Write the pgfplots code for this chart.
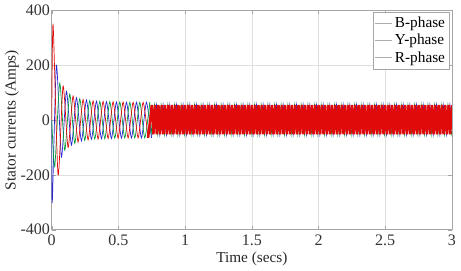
\documentclass[border=0pt]{standalone}
\usepackage{fontspec}
\setmainfont{Liberation Serif}
\usepackage{pgfplots}
\pgfplotsset{compat=1.18}
\definecolor{phaseR}{RGB}{225,10,10}
\definecolor{phaseB}{RGB}{40,40,210}
\definecolor{phaseY}{RGB}{0,155,60}
\begin{document}
\begin{tikzpicture}
\begin{axis}[
 scale only axis, width=261bp, height=143bp,
 xmin=0,xmax=3,ymin=-400,ymax=400,
 xtick={0,0.5,1,1.5,2,2.5,3}, ytick={-400,-200,0,200,400},
 grid=major, grid style={gray!25, line width=0.4pt},
 axis line style={gray!70},
 tick style={gray!70}, tick align=inside, major tick length=2.5pt,
 xlabel={Time (secs)}, ylabel={Stator currents (Amps)},
 label style={font=\fontsize{10}{12}\selectfont, text=black!85},
 tick label style={font=\fontsize{10.5}{12}\selectfont, text=black!80},
 yticklabel style={inner xsep=1pt},
 /pgf/number format/assume math mode=true,
 xlabel style={yshift=3pt}, ylabel style={yshift=-3.5pt},
 legend style={at={(0.995,0.995)},anchor=north east, draw=gray!70, font=\fontsize{10}{11}\selectfont, inner sep=1pt, row sep=-1pt, cells={anchor=west}},
 legend image code/.code={\draw[gray!65,line width=0.5pt](0cm,0cm)--(0.38cm,0cm);},
 every axis plot/.append style={line width=0.45pt},
]
% pre-0.75 s transient
\addplot[phaseB, smooth, tension=0.4] coordinates {(0,0)(0.004,-300)(0.035,200)(0.0725,-135)(0.11,105)(0.1475,-92)(0.185,82)(0.2225,-76)(0.26,73)(0.2975,-70)(0.335,69)(0.3725,-68)(0.41,67)(0.4475,-67)(0.485,66)(0.5225,-66)(0.56,65)(0.5975,-65)(0.635,65)(0.6725,-65)(0.71,65)(0.7475,-65)};
\addlegendentry{B-phase}
\addplot[phaseY, smooth, tension=0.4] coordinates {(0,0)(0.0225,-170)(0.06,135)(0.0975,-110)(0.135,95)(0.1725,-85)(0.21,78)(0.2475,-74)(0.285,71)(0.3225,-69)(0.36,68)(0.3975,-68)(0.435,67)(0.4725,-66)(0.51,66)(0.5475,-65)(0.585,65)(0.6225,-65)(0.66,65)(0.6975,-65)(0.735,65)};
\addlegendentry{Y-phase}
\addplot[phaseR, smooth, tension=0.4] coordinates {(0,0)(0.01,350)(0.0475,-200)(0.085,125)(0.1225,-100)(0.16,88)(0.1975,-80)(0.235,75)(0.2725,-72)(0.31,70)(0.3475,-69)(0.385,68)(0.4225,-67)(0.46,67)(0.4975,-66)(0.535,66)(0.5725,-65)(0.61,65)(0.6475,-65)(0.685,65)(0.7225,-65)};
\addlegendentry{R-phase}
% steady state after 0.75 s
\addplot[phaseB, forget plot] coordinates {(0.7475,-65)(0.785,56)
(0.81,-53)(0.835,56)(0.86,-53)(0.885,56)
(0.91,-53)(0.935,56)(0.96,-53)(0.985,56)
(1.01,-53)(1.035,56)(1.06,-53)(1.085,56)
(1.11,-53)(1.135,56)(1.16,-53)(1.185,56)
(1.21,-53)(1.235,56)(1.26,-53)(1.285,56)
(1.31,-53)(1.335,56)(1.36,-53)(1.385,56)
(1.41,-53)(1.435,56)(1.46,-53)(1.485,56)
(1.51,-53)(1.535,56)(1.56,-53)(1.585,56)
(1.61,-53)(1.635,56)(1.66,-53)(1.685,56)
(1.71,-53)(1.735,56)(1.76,-53)(1.785,56)
(1.81,-53)(1.835,56)(1.86,-53)(1.885,56)
(1.91,-53)(1.935,56)(1.96,-53)(1.985,56)
(2.01,-53)(2.035,56)(2.06,-53)(2.085,56)
(2.11,-53)(2.135,56)(2.16,-53)(2.185,56)
(2.21,-53)(2.235,56)(2.26,-53)(2.285,56)
(2.31,-53)(2.335,56)(2.36,-53)(2.385,56)
(2.41,-53)(2.435,56)(2.46,-53)(2.485,56)
(2.51,-53)(2.535,56)(2.56,-53)(2.585,56)
(2.61,-53)(2.635,56)(2.66,-53)(2.685,56)
(2.71,-53)(2.735,56)(2.76,-53)(2.785,56)
(2.81,-53)(2.835,56)(2.86,-53)(2.885,56)
(2.91,-53)(2.935,56)(2.96,-53)(2.985,56)(3,0)};
\addplot[phaseY, forget plot] coordinates {(0.735,65)(0.745,-53)(0.77,56)(0.795,-53)
(0.82,56)(0.845,-53)(0.87,56)(0.895,-53)
(0.92,56)(0.945,-53)(0.97,56)(0.995,-53)
(1.02,56)(1.045,-53)(1.07,56)(1.095,-53)
(1.12,56)(1.145,-53)(1.17,56)(1.195,-53)
(1.22,56)(1.245,-53)(1.27,56)(1.295,-53)
(1.32,56)(1.345,-53)(1.37,56)(1.395,-53)
(1.42,56)(1.445,-53)(1.47,56)(1.495,-53)
(1.52,56)(1.545,-53)(1.57,56)(1.595,-53)
(1.62,56)(1.645,-53)(1.67,56)(1.695,-53)
(1.72,56)(1.745,-53)(1.77,56)(1.795,-53)
(1.82,56)(1.845,-53)(1.87,56)(1.895,-53)
(1.92,56)(1.945,-53)(1.97,56)(1.995,-53)
(2.02,56)(2.045,-53)(2.07,56)(2.095,-53)
(2.12,56)(2.145,-53)(2.17,56)(2.195,-53)
(2.22,56)(2.245,-53)(2.27,56)(2.295,-53)
(2.32,56)(2.345,-53)(2.37,56)(2.395,-53)
(2.42,56)(2.445,-53)(2.47,56)(2.495,-53)
(2.52,56)(2.545,-53)(2.57,56)(2.595,-53)
(2.62,56)(2.645,-53)(2.67,56)(2.695,-53)
(2.72,56)(2.745,-53)(2.77,56)(2.795,-53)
(2.82,56)(2.845,-53)(2.87,56)(2.895,-53)
(2.92,56)(2.945,-53)(2.97,56)(2.995,-53)(3,-40)};
\addplot[phaseR, forget plot, line width=1.6pt] coordinates {(0.7225,-65)(0.75,55)(0.7625,-52)(0.775,55)(0.7875,-52)
(0.8,55)(0.8125,-52)(0.825,55)(0.8375,-52)(0.85,55)(0.8625,-52)(0.875,55)(0.8875,-52)
(0.9,55)(0.9125,-52)(0.925,55)(0.9375,-52)(0.95,55)(0.9625,-52)(0.975,55)(0.9875,-52)
(1.0,55)(1.0125,-52)(1.025,55)(1.0375,-52)(1.05,55)(1.0625,-52)(1.075,55)(1.0875,-52)
(1.1,55)(1.1125,-52)(1.125,55)(1.1375,-52)(1.15,55)(1.1625,-52)(1.175,55)(1.1875,-52)
(1.2,55)(1.2125,-52)(1.225,55)(1.2375,-52)(1.25,55)(1.2625,-52)(1.275,55)(1.2875,-52)
(1.3,55)(1.3125,-52)(1.325,55)(1.3375,-52)(1.35,55)(1.3625,-52)(1.375,55)(1.3875,-52)
(1.4,55)(1.4125,-52)(1.425,55)(1.4375,-52)(1.45,55)(1.4625,-52)(1.475,55)(1.4875,-52)
(1.5,55)(1.5125,-52)(1.525,55)(1.5375,-52)(1.55,55)(1.5625,-52)(1.575,55)(1.5875,-52)
(1.6,55)(1.6125,-52)(1.625,55)(1.6375,-52)(1.65,55)(1.6625,-52)(1.675,55)(1.6875,-52)
(1.7,55)(1.7125,-52)(1.725,55)(1.7375,-52)(1.75,55)(1.7625,-52)(1.775,55)(1.7875,-52)
(1.8,55)(1.8125,-52)(1.825,55)(1.8375,-52)(1.85,55)(1.8625,-52)(1.875,55)(1.8875,-52)
(1.9,55)(1.9125,-52)(1.925,55)(1.9375,-52)(1.95,55)(1.9625,-52)(1.975,55)(1.9875,-52)
(2.0,55)(2.0125,-52)(2.025,55)(2.0375,-52)(2.05,55)(2.0625,-52)(2.075,55)(2.0875,-52)
(2.1,55)(2.1125,-52)(2.125,55)(2.1375,-52)(2.15,55)(2.1625,-52)(2.175,55)(2.1875,-52)
(2.2,55)(2.2125,-52)(2.225,55)(2.2375,-52)(2.25,55)(2.2625,-52)(2.275,55)(2.2875,-52)
(2.3,55)(2.3125,-52)(2.325,55)(2.3375,-52)(2.35,55)(2.3625,-52)(2.375,55)(2.3875,-52)
(2.4,55)(2.4125,-52)(2.425,55)(2.4375,-52)(2.45,55)(2.4625,-52)(2.475,55)(2.4875,-52)
(2.5,55)(2.5125,-52)(2.525,55)(2.5375,-52)(2.55,55)(2.5625,-52)(2.575,55)(2.5875,-52)
(2.6,55)(2.6125,-52)(2.625,55)(2.6375,-52)(2.65,55)(2.6625,-52)(2.675,55)(2.6875,-52)
(2.7,55)(2.7125,-52)(2.725,55)(2.7375,-52)(2.75,55)(2.7625,-52)(2.775,55)(2.7875,-52)
(2.8,55)(2.8125,-52)(2.825,55)(2.8375,-52)(2.85,55)(2.8625,-52)(2.875,55)(2.8875,-52)
(2.9,55)(2.9125,-52)(2.925,55)(2.9375,-52)(2.95,55)(2.9625,-52)(2.975,55)(2.9875,-52)
(3.0,55)};
\end{axis}
\end{tikzpicture}
\end{document}
